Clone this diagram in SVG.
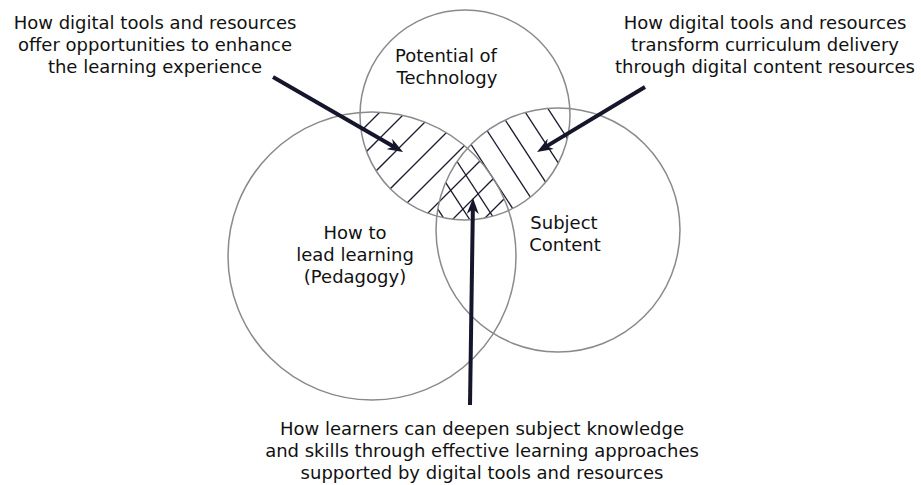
<svg xmlns="http://www.w3.org/2000/svg" width="921" height="485" viewBox="0 0 921 485">
<style>
.circ{fill:none;stroke:#8a8a8a;stroke-width:1.5}
.lbl{font-family:"DejaVu Sans",Verdana,sans-serif;font-size:18px;fill:#111111;text-anchor:middle}
.arr{stroke:#15152b;stroke-width:4;fill:none}
.hatch line{stroke:#1a1a30;stroke-width:1.3}
</style>
<defs>
<clipPath id="clipTop"><circle cx="465" cy="115" r="105"/></clipPath>
<clipPath id="clipLeft"><circle cx="372" cy="256" r="144"/></clipPath>
<clipPath id="clipRight"><circle cx="558" cy="230" r="122"/></clipPath>
<marker id="head" viewBox="0 0 16 12" refX="8" refY="6" markerWidth="16" markerHeight="12" markerUnits="userSpaceOnUse" orient="auto">
<path d="M0,0 L16,6 L0,12 L5,6 z" fill="#15152b"/>
</marker>
</defs>
<g id="hatching">
<g clip-path="url(#clipTop)">
<g class="hatch" clip-path="url(#clipLeft)">
<line x1="300" y1="192" x2="600" y2="-108"/>
<line x1="300" y1="218" x2="600" y2="-82"/>
<line x1="300" y1="247" x2="600" y2="-53"/>
<line x1="300" y1="279" x2="600" y2="-21"/>
<line x1="300" y1="310" x2="600" y2="10"/>
<line x1="300" y1="341" x2="600" y2="41"/>
<line x1="300" y1="372" x2="600" y2="72"/>
<line x1="300" y1="403" x2="600" y2="103"/>
</g>
</g>
<g clip-path="url(#clipTop)">
<g class="hatch" clip-path="url(#clipRight)">
<line x1="301.9" y1="0" x2="496.9" y2="300"/>
<line x1="327.0" y1="0" x2="522.0" y2="300"/>
<line x1="352.0" y1="0" x2="547.1" y2="300"/>
<line x1="377.1" y1="0" x2="572.2" y2="300"/>
<line x1="402.1" y1="0" x2="597.3" y2="300"/>
<line x1="427.2" y1="0" x2="622.3" y2="300"/>
<line x1="452.3" y1="0" x2="647.4" y2="300"/>
<line x1="477.3" y1="0" x2="672.4" y2="300"/>
</g>
</g>
</g>
<g id="node-technology">
<circle class="circ" cx="465" cy="115" r="105"/>
<text class="lbl" x="446" y="62">Potential of</text>
<text class="lbl" x="447" y="84">Technology</text>
</g>
<g id="node-pedagogy">
<circle class="circ" cx="372" cy="256" r="144"/>
<text class="lbl" x="355" y="239">How to</text>
<text class="lbl" x="355" y="261">lead learning</text>
<text class="lbl" x="355" y="283">(Pedagogy)</text>
</g>
<g id="node-subject">
<circle class="circ" cx="558" cy="230" r="122"/>
<text class="lbl" x="564" y="229">Subject</text>
<text class="lbl" x="565" y="251">Content</text>
</g>
<g id="note-left">
<text class="lbl" x="155" y="29">How digital tools and resources</text>
<text class="lbl" x="155" y="51">offer opportunities to enhance</text>
<text class="lbl" x="155" y="73">the learning experience</text>
</g>
<g id="note-right">
<text class="lbl" x="765" y="29">How digital tools and resources</text>
<text class="lbl" x="765" y="51">transform curriculum delivery</text>
<text class="lbl" x="765" y="73">through digital content resources</text>
</g>
<g id="note-bottom">
<text class="lbl" x="482" y="435">How learners can deepen subject knowledge</text>
<text class="lbl" x="482" y="457">and skills through effective learning approaches</text>
<text class="lbl" x="482" y="479">supported by digital tools and resources</text>
</g>
<g id="connectors">
<line class="arr" x1="273" y1="77" x2="396.1" y2="148" marker-end="url(#head)"/>
<line class="arr" x1="645" y1="87" x2="543.9" y2="147.9" marker-end="url(#head)"/>
<line class="arr" x1="470" y1="405" x2="472.9" y2="206" marker-end="url(#head)"/>
</g>
</svg>
